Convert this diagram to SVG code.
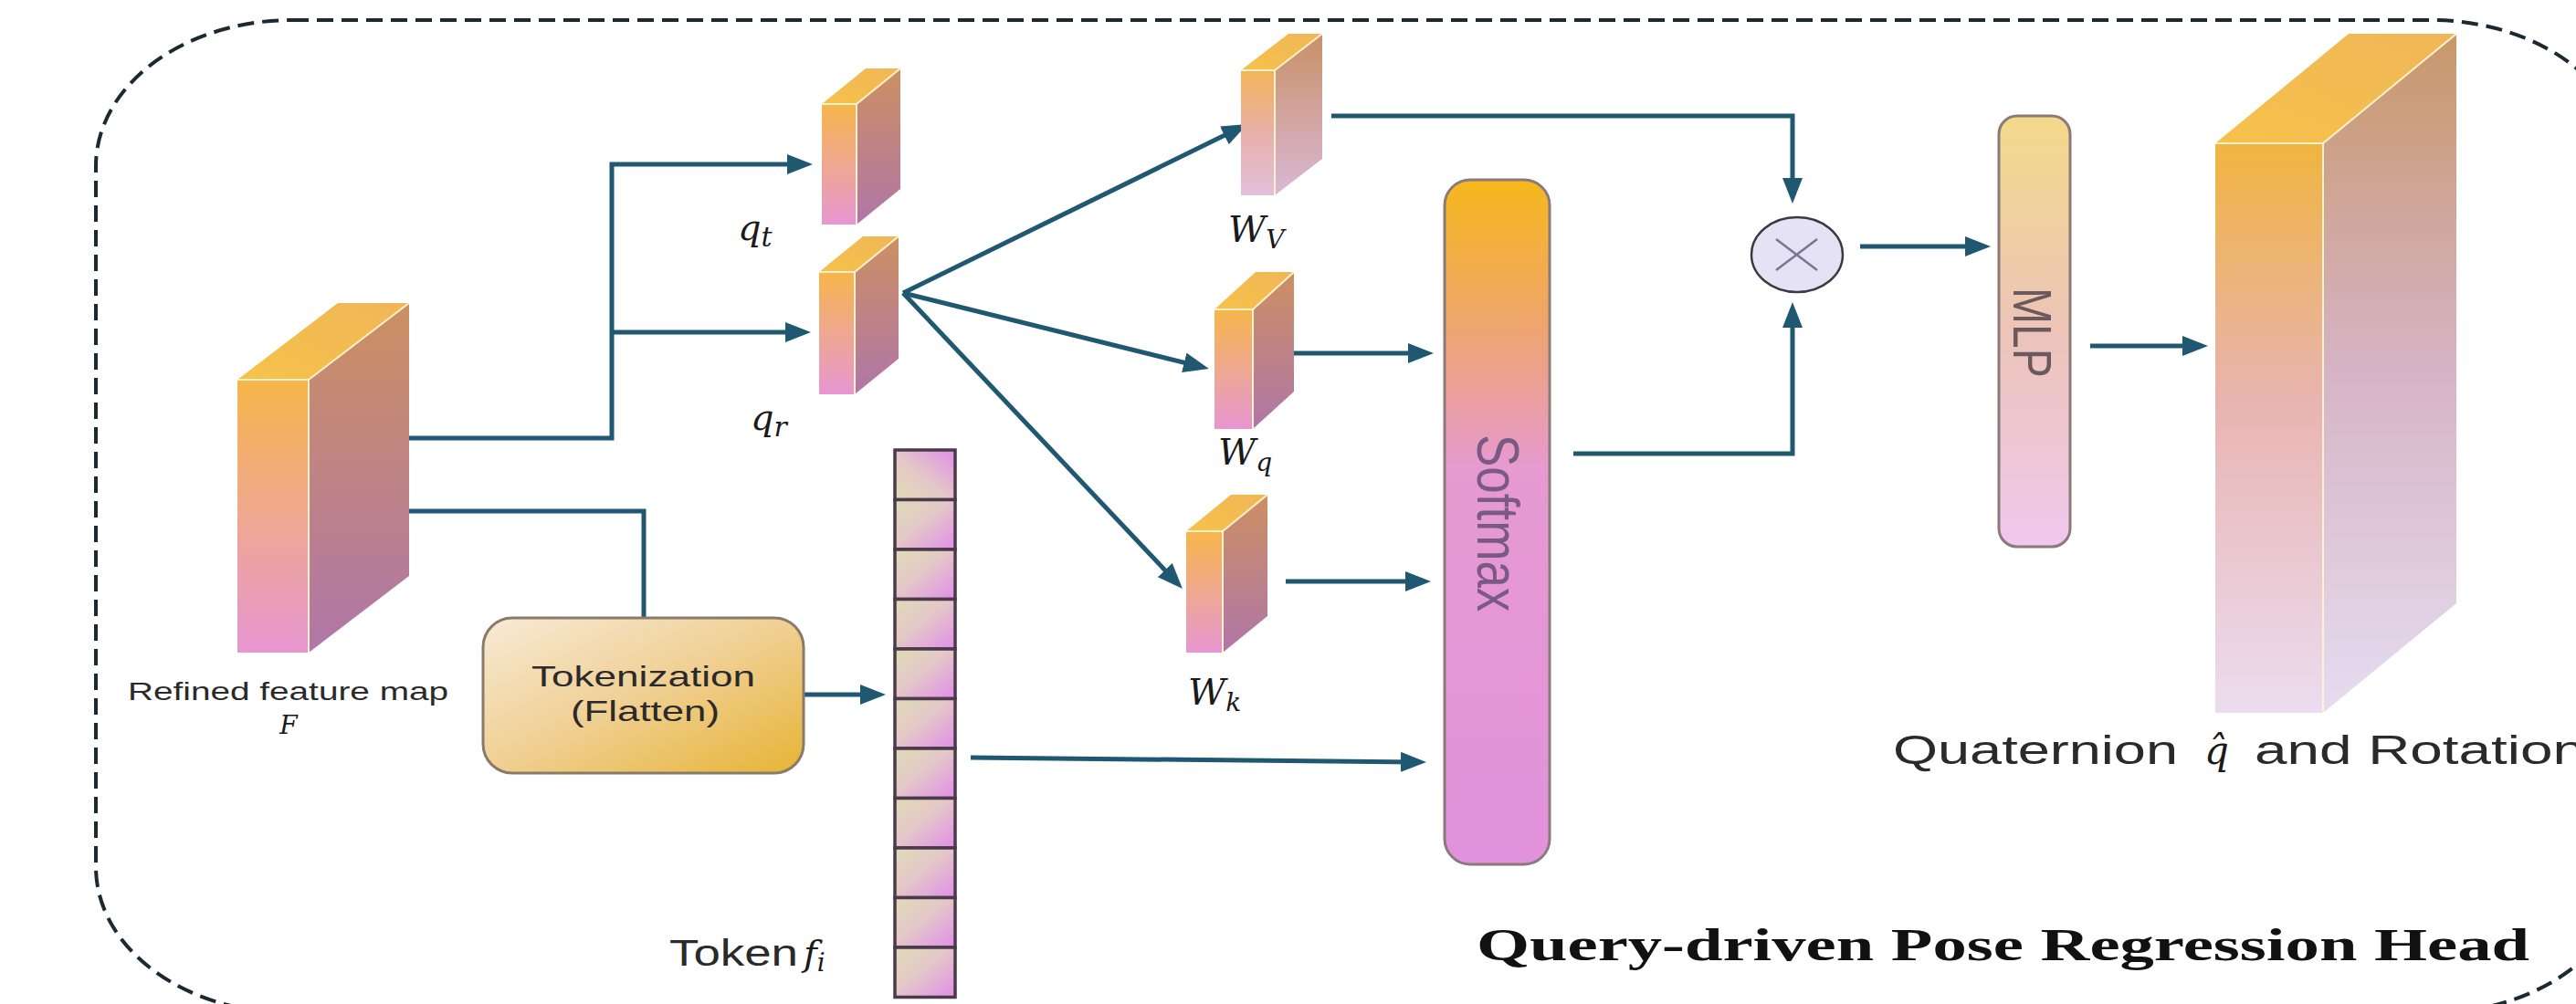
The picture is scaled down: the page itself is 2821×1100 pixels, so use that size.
<svg xmlns="http://www.w3.org/2000/svg" width="2821" height="1100" viewBox="0 0 2821 1100">
<style>
.conn{fill:none;stroke:#1f5870;stroke-width:5;}
.edge{stroke:#fff2cc;stroke-width:2;stroke-linejoin:round;}
.lbl{font-family:"Liberation Sans",Arial,sans-serif;fill:#2a2a2a;}
.math{font-family:"DejaVu Serif","Liberation Serif",serif;font-style:italic;fill:#1a1a1a;}
.cell{fill:url(#gCell);stroke:#4a3a4a;stroke-width:3.5;}
</style>
<defs>
<marker id="arr" markerUnits="userSpaceOnUse" markerWidth="28" markerHeight="22" refX="20" refY="11" orient="auto">
<path d="M0,0 L28,11 L0,22 Z" fill="#1f5870"/>
</marker>
<linearGradient id="gFront" x1="0" y1="0" x2="0" y2="1">
<stop offset="0" stop-color="#f7b54a"/><stop offset="0.5" stop-color="#eea890"/><stop offset="1" stop-color="#e796d2"/>
</linearGradient>
<linearGradient id="gSide" x1="0" y1="0" x2="0" y2="1">
<stop offset="0" stop-color="#cc9062"/><stop offset="1" stop-color="#b076a8"/>
</linearGradient>
<linearGradient id="gTop" x1="0" y1="1" x2="1" y2="0">
<stop offset="0" stop-color="#f6c24a"/><stop offset="1" stop-color="#f0b658"/>
</linearGradient>
<linearGradient id="gFrontV" x1="0" y1="0" x2="0" y2="1">
<stop offset="0" stop-color="#f3b458"/><stop offset="0.5" stop-color="#e8b0a8"/><stop offset="1" stop-color="#e2c0dc"/>
</linearGradient>
<linearGradient id="gSideV" x1="0" y1="0" x2="0" y2="1">
<stop offset="0" stop-color="#c89066"/><stop offset="1" stop-color="#dab8d6"/>
</linearGradient>
<linearGradient id="gOutFront" x1="0" y1="0" x2="0" y2="1">
<stop offset="0" stop-color="#f0b440"/><stop offset="0.45" stop-color="#e8b4b0"/><stop offset="1" stop-color="#ecdcf0"/>
</linearGradient>
<linearGradient id="gOutSide" x1="0" y1="0" x2="0" y2="1">
<stop offset="0" stop-color="#c8986a"/><stop offset="0.5" stop-color="#d6b4c6"/><stop offset="1" stop-color="#e6dcf0"/>
</linearGradient>
<linearGradient id="gSoft" x1="0" y1="0" x2="0" y2="1">
<stop offset="0" stop-color="#f6b81c"/><stop offset="0.22" stop-color="#eea470"/><stop offset="0.42" stop-color="#e69ad0"/><stop offset="1" stop-color="#e192dc"/>
</linearGradient>
<linearGradient id="gMlp" x1="0" y1="0" x2="0" y2="1">
<stop offset="0" stop-color="#f3d98a"/><stop offset="0.5" stop-color="#edc4b8"/><stop offset="1" stop-color="#efc8ee"/>
</linearGradient>
<linearGradient id="gTok" x1="0" y1="0" x2="1" y2="1">
<stop offset="0" stop-color="#f7ead6"/><stop offset="0.5" stop-color="#f0cf92"/><stop offset="1" stop-color="#e6b434"/>
</linearGradient>
<linearGradient id="gCell" x1="0" y1="0" x2="1" y2="1">
<stop offset="0" stop-color="#dedcb6"/><stop offset="0.45" stop-color="#e4c8c8"/><stop offset="1" stop-color="#e08ee8"/>
</linearGradient>
<linearGradient id="gCell0" x1="0" y1="1" x2="1" y2="0">
<stop offset="0" stop-color="#dedcb6"/><stop offset="0.45" stop-color="#e4c8c8"/><stop offset="1" stop-color="#e08ee8"/>
</linearGradient>
</defs>
<rect width="2821" height="1100" fill="#ffffff"/>

<g id="frame">
<rect x="105" y="22" width="2772" height="1088" rx="215" ry="160" fill="none" stroke="#1a2a30" stroke-width="4" stroke-dasharray="18 9"/>
</g>

<g id="connectors">
<path class="conn" d="M446,480 H670 V180 H882" marker-end="url(#arr)"/>
<path class="conn" d="M670,364 H880" marker-end="url(#arr)"/>
<path class="conn" d="M446,560 H705 V677"/>
<path class="conn" d="M880,761 H962" marker-end="url(#arr)"/>
<path class="conn" d="M989,321 L1358.8,139.5" marker-end="url(#arr)"/>
<path class="conn" d="M989,321 L1316.2,402.1" marker-end="url(#arr)"/>
<path class="conn" d="M989,321 L1289.5,639.2" marker-end="url(#arr)"/>
<path class="conn" d="M1413,387 H1562" marker-end="url(#arr)"/>
<path class="conn" d="M1408,637 H1559" marker-end="url(#arr)"/>
<path class="conn" d="M1063,830 L1554,835" marker-end="url(#arr)"/>
<path class="conn" d="M1458,127 H1963 V215" marker-end="url(#arr)"/>
<path class="conn" d="M1723,497 H1963 V339" marker-end="url(#arr)"/>
<path class="conn" d="M2037,270 H2172" marker-end="url(#arr)"/>
<path class="conn" d="M2289,379 H2410" marker-end="url(#arr)"/>
</g>

<g id="node-F">
<polygon points="338,416 448,332 448,631 338,715" fill="url(#gSide)"/>
<polygon points="260,416 370,332 448,332 338,416" fill="url(#gTop)"/>
<rect x="260" y="416" width="78" height="299" fill="url(#gFront)"/>
<polyline class="edge" fill="none" points="260,416 338,416 448,332"/>
<line class="edge" x1="338" y1="416" x2="338" y2="715"/>
<text class="lbl" x="140" y="767" font-size="28" textLength="351" lengthAdjust="spacingAndGlyphs">Refined feature map</text>
<text class="math" x="316" y="804" font-size="28" text-anchor="middle">F</text>
</g>

<g id="node-qt">
<polygon points="938,114 986,75 986,207 938,246" fill="url(#gSide)"/>
<polygon points="900,114 948,75 986,75 938,114" fill="url(#gTop)"/>
<rect x="900" y="114" width="38" height="132" fill="url(#gFront)"/>
<polyline class="edge" fill="none" points="900,114 938,114 986,75"/>
<line class="edge" x1="938" y1="114" x2="938" y2="246"/>
<text class="math" x="808" y="263" font-size="40">q<tspan font-size="30" dy="7">t</tspan></text>
</g>

<g id="node-qr">
<polygon points="936,298 984,259 984,393 936,432" fill="url(#gSide)"/>
<polygon points="897,298 945,259 984,259 936,298" fill="url(#gTop)"/>
<rect x="897" y="298" width="39" height="134" fill="url(#gFront)"/>
<polyline class="edge" fill="none" points="897,298 936,298 984,259"/>
<line class="edge" x1="936" y1="298" x2="936" y2="432"/>
<text class="math" x="822" y="471" font-size="40">q<tspan font-size="30" dy="7">r</tspan></text>
</g>

<g id="node-WV">
<polygon points="1396,77 1448,37 1448,174 1396,214" fill="url(#gSideV)"/>
<polygon points="1359,77 1411,37 1448,37 1396,77" fill="url(#gTop)"/>
<rect x="1359" y="77" width="37" height="137" fill="url(#gFrontV)"/>
<polyline class="edge" fill="none" points="1359,77 1396,77 1448,37"/>
<line class="edge" x1="1396" y1="77" x2="1396" y2="214"/>
<text class="math" x="1345" y="265" font-size="40">W<tspan font-size="28" dy="7">V</tspan></text>
</g>

<g id="node-Wq">
<polygon points="1372,339 1417,298 1417,429 1372,470" fill="url(#gSide)"/>
<polygon points="1330,339 1375,298 1417,298 1372,339" fill="url(#gTop)"/>
<rect x="1330" y="339" width="42" height="131" fill="url(#gFront)"/>
<polyline class="edge" fill="none" points="1330,339 1372,339 1417,298"/>
<line class="edge" x1="1372" y1="339" x2="1372" y2="470"/>
<text class="math" x="1334" y="509" font-size="40">W<tspan font-size="28" dy="7">q</tspan></text>
</g>

<g id="node-Wk">
<polygon points="1339,582 1388,542 1388,675 1339,715" fill="url(#gSide)"/>
<polygon points="1299,582 1348,542 1388,542 1339,582" fill="url(#gTop)"/>
<rect x="1299" y="582" width="40" height="133" fill="url(#gFront)"/>
<polyline class="edge" fill="none" points="1299,582 1339,582 1388,542"/>
<line class="edge" x1="1339" y1="582" x2="1339" y2="715"/>
<text class="math" x="1301" y="772" font-size="40">W<tspan font-size="28" dy="7">k</tspan></text>
</g>

<g id="node-tokenization">
<rect x="529" y="677" width="351" height="170" rx="32" fill="url(#gTok)" stroke="#8a7a6a" stroke-width="3"/>
<text class="lbl" x="582" y="752" font-size="32" textLength="245" lengthAdjust="spacingAndGlyphs">Tokenization</text>
<text class="lbl" x="625" y="790" font-size="32" textLength="163" lengthAdjust="spacingAndGlyphs">(Flatten)</text>
</g>

<g id="node-tokens">
<rect x="980" y="493" width="66" height="54.5" fill="url(#gCell0)" stroke="#4a3a4a" stroke-width="3.5"/>
<rect class="cell" x="980" y="547.5" width="66" height="54.5"/>
<rect class="cell" x="980" y="602" width="66" height="54.5"/>
<rect class="cell" x="980" y="656.5" width="66" height="54.5"/>
<rect class="cell" x="980" y="711" width="66" height="54.5"/>
<rect class="cell" x="980" y="765.5" width="66" height="54.5"/>
<rect class="cell" x="980" y="820" width="66" height="54.5"/>
<rect class="cell" x="980" y="874.5" width="66" height="54.5"/>
<rect class="cell" x="980" y="929" width="66" height="54.5"/>
<rect class="cell" x="980" y="983.5" width="66" height="54.5"/>
<rect class="cell" x="980" y="1038" width="66" height="54.5"/>
<text class="lbl" x="733" y="1058" font-size="40" textLength="141" lengthAdjust="spacingAndGlyphs">Token</text>
<text class="math" x="880" y="1058" font-size="40">f<tspan font-size="28" dy="6">i</tspan></text>
</g>

<g id="node-softmax">
<rect x="1582" y="197" width="115" height="750" rx="28" fill="url(#gSoft)" stroke="#8a7a7a" stroke-width="3"/>
<text class="lbl" transform="translate(1618,476) scale(1.24,1) rotate(90)" font-size="53" style="fill:#7a5a84">Softmax</text>
</g>

<g id="node-mult">
<ellipse cx="1968" cy="279" rx="50" ry="41" fill="#e4e2f4" stroke="#3a3a40" stroke-width="2.5"/>
<path d="M1945,262 L1990,296 M1990,262 L1945,296" stroke="#7a7490" stroke-width="2.5" fill="none"/>
</g>

<g id="node-mlp">
<rect x="2189" y="127" width="78" height="472" rx="20" fill="url(#gMlp)" stroke="#8a7a7a" stroke-width="3"/>
<text class="lbl" transform="translate(2205,315) scale(1.24,1) rotate(90)" font-size="48" style="fill:#6a5a60">MLP</text>
</g>

<g id="node-output">
<polygon points="2544,157 2690,37 2690,661 2544,781" fill="url(#gOutSide)"/>
<polygon points="2426,157 2572,37 2690,37 2544,157" fill="url(#gTop)"/>
<rect x="2426" y="157" width="118" height="624" fill="url(#gOutFront)"/>
<polyline class="edge" fill="none" points="2426,157 2544,157 2690,37"/>
<line class="edge" x1="2544" y1="157" x2="2544" y2="781"/>
<text class="lbl" x="2073" y="837" font-size="44" textLength="312" lengthAdjust="spacingAndGlyphs">Quaternion</text>
<text class="math" x="2414" y="837" font-size="42">q̂</text>
<text class="lbl" x="2469" y="837" font-size="44" textLength="362" lengthAdjust="spacingAndGlyphs">and Rotation</text>
</g>

<g id="title">
<text x="1617" y="1052" font-family="'Liberation Serif','Times New Roman',serif" font-weight="bold" font-size="50" fill="#111" textLength="1153" lengthAdjust="spacingAndGlyphs">Query-driven Pose Regression Head</text>
</g>
</svg>
